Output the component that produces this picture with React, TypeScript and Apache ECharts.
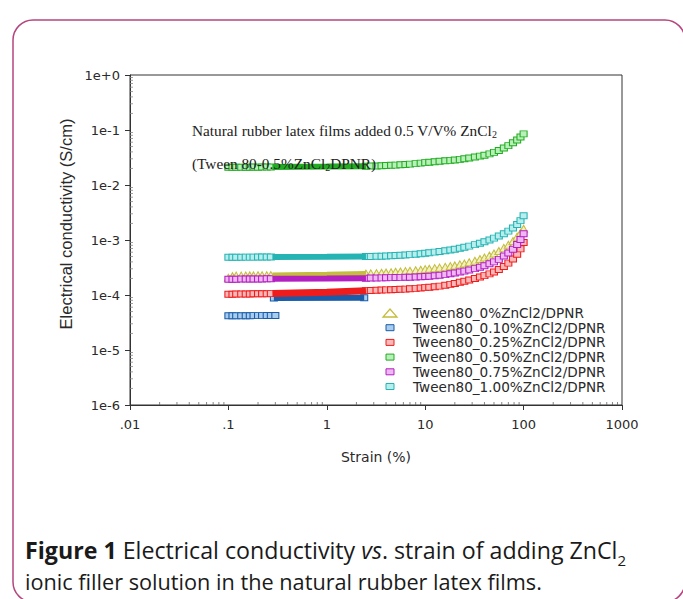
import React, { useEffect, useRef } from "react";
import * as echarts from "echarts";

// ---------------- data ----------------
const seriesNames = [
  "Tween80_0%ZnCl2/DPNR",
  "Tween80_0.10%ZnCl2/DPNR",
  "Tween80_0.25%ZnCl2/DPNR",
  "Tween80_0.50%ZnCl2/DPNR",
  "Tween80_0.75%ZnCl2/DPNR",
  "Tween80_1.00%ZnCl2/DPNR",
];

const xTickLabels = [".01", ".1", "1", "10", "100", "1000"];
const yTickLabels = ["1e-6", "1e-5", "1e-4", "1e-3", "1e-2", "1e-1", "1e+0"];
const minorFactors = [2, 3, 4, 5, 6, 7, 8, 9];

// strain (%) sampling
const strainComb = [0.1, 0.11, 0.12, 0.135, 0.15, 0.165, 0.18, 0.2, 0.22, 0.245, 0.27];
const strainBand = [0.28, 1, 2.5];
const strainTail = [
  2.5, 2.8, 3.2, 3.6, 4, 4.5, 5, 5.6, 6.3, 7, 8, 9, 10, 11, 12.5, 14, 16, 18, 20, 22.5,
  25, 28, 32, 36, 40, 45, 50, 56, 63, 70, 78, 86, 93, 100,
];

// Tween80_0%
const y0Comb = [2.05e-4, 2.2e-4, 2.25e-4, 2.25e-4, 2.26e-4, 2.27e-4, 2.27e-4, 2.28e-4, 2.28e-4, 2.29e-4, 2.3e-4];
const y0Band = [2.3e-4, 2.38e-4, 2.45e-4];
const y0Tail = [
  2.45e-4, 2.47e-4, 2.5e-4, 2.53e-4, 2.56e-4, 2.6e-4, 2.64e-4, 2.68e-4, 2.72e-4, 2.76e-4,
  2.82e-4, 2.88e-4, 2.95e-4, 3.0e-4, 3.08e-4, 3.15e-4, 3.25e-4, 3.35e-4, 3.45e-4, 3.6e-4,
  3.75e-4, 3.95e-4, 4.2e-4, 4.5e-4, 4.8e-4, 5.2e-4, 5.7e-4, 6.3e-4, 7.2e-4, 8.2e-4,
  9.6e-4, 1.15e-3, 1.35e-3, 1.6e-3,
];

// Tween80_0.10%
const strainBlueA = [0.1, 0.11, 0.12, 0.135, 0.15, 0.165, 0.18, 0.2, 0.22, 0.245, 0.27, 0.3];
const y10A = [4.2e-5, 4.2e-5, 4.2e-5, 4.21e-5, 4.21e-5, 4.21e-5, 4.22e-5, 4.22e-5, 4.22e-5, 4.23e-5, 4.23e-5, 4.24e-5];
const strainBlueB = [0.29, 2.4];
const y10B = [8.8e-5, 8.9e-5];

// Tween80_0.25%
const y25Comb = [1.03e-4, 1.03e-4, 1.04e-4, 1.04e-4, 1.04e-4, 1.04e-4, 1.05e-4, 1.05e-4, 1.05e-4, 1.05e-4, 1.06e-4];
const y25Band = [1.06e-4, 1.12e-4, 1.2e-4];
const y25Tail = [
  1.2e-4, 1.21e-4, 1.22e-4, 1.23e-4, 1.24e-4, 1.25e-4, 1.26e-4, 1.27e-4, 1.28e-4, 1.3e-4,
  1.32e-4, 1.34e-4, 1.36e-4, 1.38e-4, 1.41e-4, 1.45e-4, 1.5e-4, 1.56e-4, 1.62e-4, 1.7e-4,
  1.78e-4, 1.88e-4, 2.0e-4, 2.12e-4, 2.25e-4, 2.42e-4, 2.62e-4, 2.9e-4, 3.3e-4, 3.8e-4,
  4.5e-4, 5.5e-4, 6.9e-4, 9.0e-4,
];

// Tween80_0.50%
const y50Comb = [0.021, 0.021, 0.0211, 0.021, 0.0211, 0.0211, 0.0212, 0.0211, 0.0212, 0.0212, 0.0213];
const y50Band = [0.0213, 0.0216, 0.022];
const y50Tail = [
  0.022, 0.0221, 0.0222, 0.0224, 0.0226, 0.0228, 0.023, 0.0233, 0.0236, 0.024,
  0.0245, 0.025, 0.0255, 0.026, 0.0265, 0.027, 0.0275, 0.028, 0.0285, 0.0292,
  0.03, 0.031, 0.0322, 0.0335, 0.0348, 0.0368, 0.0392, 0.0425, 0.047, 0.052,
  0.0585, 0.066, 0.0745, 0.085,
];

// Tween80_0.75%
const y75Comb = [1.93e-4, 1.94e-4, 1.94e-4, 1.95e-4, 1.95e-4, 1.95e-4, 1.96e-4, 1.96e-4, 1.96e-4, 1.97e-4, 1.97e-4];
const y75Band = [1.97e-4, 1.99e-4, 2.02e-4];
const y75Tail = [
  2.02e-4, 2.03e-4, 2.04e-4, 2.05e-4, 2.06e-4, 2.07e-4, 2.08e-4, 2.09e-4, 2.1e-4, 2.11e-4,
  2.13e-4, 2.15e-4, 2.17e-4, 2.2e-4, 2.24e-4, 2.28e-4, 2.35e-4, 2.43e-4, 2.52e-4, 2.62e-4,
  2.72e-4, 2.85e-4, 3.02e-4, 3.2e-4, 3.4e-4, 3.7e-4, 4.0e-4, 4.45e-4, 5.1e-4, 5.8e-4,
  6.8e-4, 8.3e-4, 1.02e-3, 1.3e-3,
];

// Tween80_1.00%
const y100Comb = [4.85e-4, 4.86e-4, 4.87e-4, 4.87e-4, 4.88e-4, 4.88e-4, 4.89e-4, 4.9e-4, 4.9e-4, 4.91e-4, 4.92e-4];
const y100Band = [4.92e-4, 4.96e-4, 5.0e-4];
const y100Tail = [
  5.0e-4, 5.02e-4, 5.05e-4, 5.08e-4, 5.12e-4, 5.17e-4, 5.22e-4, 5.28e-4, 5.35e-4, 5.42e-4,
  5.52e-4, 5.62e-4, 5.75e-4, 5.88e-4, 6.02e-4, 6.18e-4, 6.38e-4, 6.58e-4, 6.8e-4, 7.08e-4,
  7.38e-4, 7.75e-4, 8.25e-4, 8.75e-4, 9.3e-4, 1.0e-3, 1.08e-3, 1.18e-3, 1.3e-3, 1.45e-3,
  1.65e-3, 1.92e-3, 2.25e-3, 2.75e-3,
];

// ---------------- styles ----------------
const stroke = ["#c4bc3c", "#1a5ca8", "#ee1c1c", "#22ac22", "#b31fc0", "#26b3b3"];
const fillC = ["#f4f1c0", "#a9cdee", "#ffb8b8", "#b9efb9", "#efb8f3", "#b8eeee"];

const pairs = (xs: number[], ys: number[]) => xs.map((x, i) => [x, ys[i]]);

function markers(idx: number, xs: number[], ys: number[]) {
  const tri = idx === 0;
  return {
    type: "scatter",
    name: seriesNames[idx],
    data: pairs(xs, ys),
    symbol: tri ? "triangle" : "rect",
    symbolSize: tri ? [8, 7] : [7, 6],
    itemStyle: { color: fillC[idx], borderColor: stroke[idx], borderWidth: 1, opacity: 1 },
    clip: false,
    silent: true,
  };
}

function band(idx: number, xs: number[], ys: number[], width = 6) {
  return {
    type: "line",
    name: seriesNames[idx],
    data: pairs(xs, ys),
    symbol: "none",
    showSymbol: false,
    lineStyle: { color: stroke[idx], width, cap: "butt" },
    clip: false,
    silent: true,
  };
}

export default function App() {
  const ref = useRef<HTMLDivElement>(null);

  useEffect(() => {
    if (!ref.current) return;
    const chart = echarts.init(ref.current, undefined, { renderer: "svg" });

    const xMinor: number[][] = [];
    for (let k = -2; k <= 2; k++) minorFactors.forEach((f) => xMinor.push([f * Math.pow(10, k), 1e-6]));
    const yMinor: number[][] = [];
    for (let k = -6; k <= -1; k++) minorFactors.forEach((f) => yMinor.push([0.01, f * Math.pow(10, k)]));

    const labelFont = '"DejaVu Sans", sans-serif';

    const legendGraphics: any[] = [];
    seriesNames.forEach((name, i) => {
      const y = 313 + i * 14.7;
      if (i === 0) {
        legendGraphics.push({
          type: "polygon",
          shape: { points: [[383, y + 4], [397, y + 4], [390, y - 4]] },
          style: { fill: "none", stroke: stroke[0], lineWidth: 1.3 },
        });
      } else {
        legendGraphics.push({
          type: "rect",
          shape: { x: 386, y: y - 3, width: 8, height: 6 },
          style: { fill: fillC[i], stroke: stroke[i], lineWidth: 1 },
        });
      }
      legendGraphics.push({
        type: "text",
        x: 413,
        y,
        style: {
          text: name,
          fontSize: 13.6,
          fontFamily: labelFont,
          fill: "#2a2a2a",
          align: "left",
          verticalAlign: "middle",
          textAlign: "left",
          textVerticalAlign: "middle",
        },
      });
    });

    const serifFont = '"Liberation Serif", "Times New Roman", serif';
    const capFont = '"Open Sans", sans-serif';
    const capSize1 = 23.2;
    const capSize2 = 21.7;

    const option: any = {
      animation: false,
      backgroundColor: "#ffffff",
      textStyle: { fontFamily: labelFont },
      grid: {
        left: 130,
        top: 75,
        width: 492,
        height: 330,
        show: true,
        borderColor: "#333",
        borderWidth: 1,
        backgroundColor: "transparent",
      },
      xAxis: {
        type: "log",
        logBase: 10,
        min: 0.01,
        max: 1000,
        splitNumber: 5,
        name: "Strain (%)",
        nameLocation: "middle",
        nameGap: 45,
        nameTextStyle: { fontFamily: labelFont, fontSize: 14, color: "#2a2a2a" },
        axisLine: { show: true, lineStyle: { color: "#333", width: 1 } },
        axisTick: { show: true, inside: false, length: 5, lineStyle: { color: "#333" } },
        axisLabel: {
          margin: 13,
          fontSize: 13,
          fontFamily: labelFont,
          color: "#2a2a2a",
          formatter: (v: number) => xTickLabels[Math.round(Math.log10(v)) + 2] ?? "",
        },
        splitLine: { show: false },
        minorTick: { show: false },
      },
      yAxis: {
        type: "log",
        logBase: 10,
        min: 1e-6,
        max: 1,
        splitNumber: 6,
        axisLine: { show: true, lineStyle: { color: "#333", width: 1 } },
        axisTick: { show: true, inside: false, length: 5, lineStyle: { color: "#333" } },
        axisLabel: {
          margin: 10,
          fontSize: 13,
          fontFamily: labelFont,
          color: "#2a2a2a",
          formatter: (v: number) => yTickLabels[Math.round(Math.log10(v)) + 6] ?? "",
        },
        splitLine: { show: false },
        minorTick: { show: false },
      },
      series: [
        // minor ticks drawn at the axes
        {
          type: "scatter",
          data: xMinor,
          symbol: "rect",
          symbolSize: [1, 3],
          symbolOffset: [0, -1.5],
          itemStyle: { color: "#666" },
          clip: false,
          silent: true,
          z: 5,
        },
        {
          type: "scatter",
          data: yMinor,
          symbol: "rect",
          symbolSize: [3, 1],
          symbolOffset: [1.5, 0],
          itemStyle: { color: "#888" },
          clip: false,
          silent: true,
          z: 5,
        },
        // Tween80_0%
        band(0, strainBand, y0Band, 5),
        markers(0, strainComb.concat(strainTail), y0Comb.concat(y0Tail)),
        // Tween80_0.10%
        markers(1, strainBlueA, y10A),
        band(1, strainBlueB, y10B, 6),
        markers(1, strainBlueB, y10B),
        // Tween80_0.25%
        band(2, strainBand, y25Band, 7),
        markers(2, strainComb.concat(strainTail), y25Comb.concat(y25Tail)),
        // Tween80_0.50%
        band(3, strainBand, y50Band, 6),
        markers(3, strainComb.concat(strainTail), y50Comb.concat(y50Tail)),
        // Tween80_0.75%
        band(4, strainBand, y75Band, 6),
        markers(4, strainComb.concat(strainTail), y75Comb.concat(y75Tail)),
        // Tween80_1.00%
        band(5, strainBand, y100Band, 6),
        markers(5, strainComb.concat(strainTail), y100Comb.concat(y100Tail)),
      ],
      graphic: [
        {
          type: "rect",
          z: -10,
          shape: { x: 13, y: 20, width: 672, height: 582, r: 20 },
          style: { fill: "none", stroke: "#b5457e", lineWidth: 1.5 },
        },
        {
          type: "text",
          x: 66,
          y: 224,
          rotation: Math.PI / 2,
          style: {
            text: "Electrical conductivity (S/cm)",
            fontSize: 16.5,
            fontFamily: '"Liberation Sans", Arial, sans-serif',
            fill: "#2a2a2a",
            align: "center",
            textAlign: "center",
            verticalAlign: "middle",
            textVerticalAlign: "middle",
          },
        },
        {
          type: "text",
          x: 192,
          y: 130,
          z: 10,
          style: {
            text: "Natural rubber latex films added 0.5 V/V% ZnCl{s|2}",
            fontSize: 15.3,
            fontFamily: serifFont,
            fill: "#222",
            verticalAlign: "middle",
            textVerticalAlign: "middle",
            rich: { s: { fontSize: 10, fontFamily: serifFont, fill: "#222", verticalAlign: "bottom", lineHeight: 19 } },
          },
        },
        {
          type: "text",
          x: 192,
          y: 163,
          z: 10,
          style: {
            text: "(Tween 80-0.5%ZnCl{s|2}DPNR)",
            fontSize: 15.3,
            fontFamily: serifFont,
            fill: "#222",
            verticalAlign: "middle",
            textVerticalAlign: "middle",
            rich: { s: { fontSize: 10, fontFamily: serifFont, fill: "#222", verticalAlign: "bottom", lineHeight: 19 } },
          },
        },
        ...legendGraphics,
        {
          type: "text",
          x: 25,
          y: 550,
          style: {
            text: "{b|Figure 1} Electrical conductivity {i|vs}. strain of adding ZnCl{s|2}",
            fontSize: capSize1,
            fontFamily: capFont,
            fill: "#1a1a1a",
            verticalAlign: "middle",
            textVerticalAlign: "middle",
            rich: {
              b: { fontSize: capSize1, fontWeight: "bold", fontFamily: capFont, fill: "#1a1a1a" },
              i: { fontSize: capSize1, fontStyle: "italic", fontFamily: capFont, fill: "#1a1a1a" },
              s: { fontSize: 15, fontFamily: capFont, fill: "#1a1a1a", verticalAlign: "bottom", lineHeight: 34 },
            },
          },
        },
        {
          type: "text",
          x: 25,
          y: 581,
          style: {
            text: "ionic filler solution in the natural rubber latex films.",
            fontSize: capSize2,
            fontFamily: capFont,
            fill: "#1a1a1a",
            verticalAlign: "middle",
            textVerticalAlign: "middle",
          },
        },
      ],
    };

    chart.setOption(option);
    return () => chart.dispose();
  }, []);

  return (
    <div
      ref={ref}
      style={{ position: "absolute", left: 0, top: 0, width: 683, height: 599, background: "#fff" }}
    />
  );
}
